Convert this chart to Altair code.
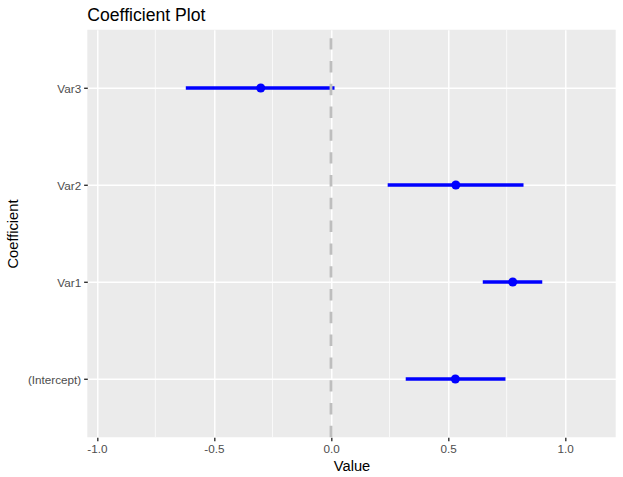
import altair as alt
import pandas as pd

# ---- data ----
terms = ["(Intercept)", "Var1", "Var2", "Var3"]
estimates = [0.531, 0.776, 0.533, -0.300]
lower = [0.319, 0.648, 0.242, -0.620]
upper = [0.745, 0.902, 0.822, 0.015]
y_order = ["Var3", "Var2", "Var1", "(Intercept)"]
major_breaks = [-1.0, -0.5, 0.0, 0.5, 1.0]
minor_breaks = [-0.75, -0.25, 0.25, 0.75]
ref_value = [0.0]

df = pd.DataFrame({"term": terms, "estimate": estimates, "lower": lower, "upper": upper})
minor_df = pd.DataFrame({"v": minor_breaks})
ref_df = pd.DataFrame({"v": ref_value})

FONT = "Liberation Sans"
W, H = 528.4, 407.4

x_scale = alt.Scale(domain=[-1.0406, 1.2156], nice=False, zero=False)
y_scale = alt.Scale(type="point", domain=y_order, padding=0.6)

x_axis = alt.Axis(
    values=major_breaks,
    labelExpr="datum.value < 0 ? '-' + format(abs(datum.value), '.1f') : format(datum.value, '.1f')",
    grid=True, gridColor="white", gridWidth=1.42,
    ticks=True, tickColor="#333333", tickWidth=1.42, tickSize=3.67,
    labelPadding=2.93, labelFontSize=11.7, labelColor="#4D4D4D", labelFont=FONT,
    domain=False, title="Value", titleFontSize=14.67, titleFontWeight="normal",
    titleColor="black", titleFont=FONT, titlePadding=2.8,
)
y_axis = alt.Axis(
    grid=True, gridColor="white", gridWidth=1.42,
    ticks=True, tickColor="#333333", tickWidth=1.42, tickSize=3.67,
    labelPadding=2.93, labelFontSize=11.7, labelColor="#4D4D4D", labelFont=FONT,
    domain=False, title="Coefficient", titleFontSize=14.67, titleFontWeight="normal",
    titleColor="black", titleFont=FONT, titlePadding=6.5,
)

minor = alt.Chart(minor_df).mark_rule(color="white", strokeWidth=0.71).encode(
    x=alt.X("v:Q", scale=x_scale, axis=x_axis)
)

bars = alt.Chart(df).mark_rule(color="#0000FF", strokeWidth=3.3).encode(
    x=alt.X("lower:Q", scale=x_scale, axis=x_axis),
    x2="upper:Q",
    y=alt.Y("term:N", scale=y_scale, axis=y_axis),
)

points = alt.Chart(df).mark_circle(color="#0000FF", size=82, opacity=1).encode(
    x=alt.X("estimate:Q", scale=x_scale, axis=x_axis),
    y=alt.Y("term:N", scale=y_scale, axis=y_axis),
)

ref = alt.Chart(ref_df).mark_rule(
    color="#BEBEBE", strokeWidth=2.85, strokeDash=[11.4, 11.4]
).encode(
    x=alt.X("v:Q", scale=x_scale, axis=x_axis),
    y=alt.value(H),
    y2=alt.value(0),
)

chart = alt.layer(minor, bars, points, ref).properties(
    width=W,
    height=H,
    padding={"left": 87.3, "top": 29.8, "right": 7.3, "bottom": 39.8},
    autosize=alt.AutoSizeParams(type="none"),
    background="white",
    title=alt.TitleParams(
        "Coefficient Plot", anchor="start", frame="group", fontSize=17.6,
        font=FONT, fontWeight="normal", color="black", offset=4,
    ),
).configure_view(fill="#EBEBEB", stroke=None)

chart.save("out.html", embed_options={"renderer": "svg", "actions": False})
